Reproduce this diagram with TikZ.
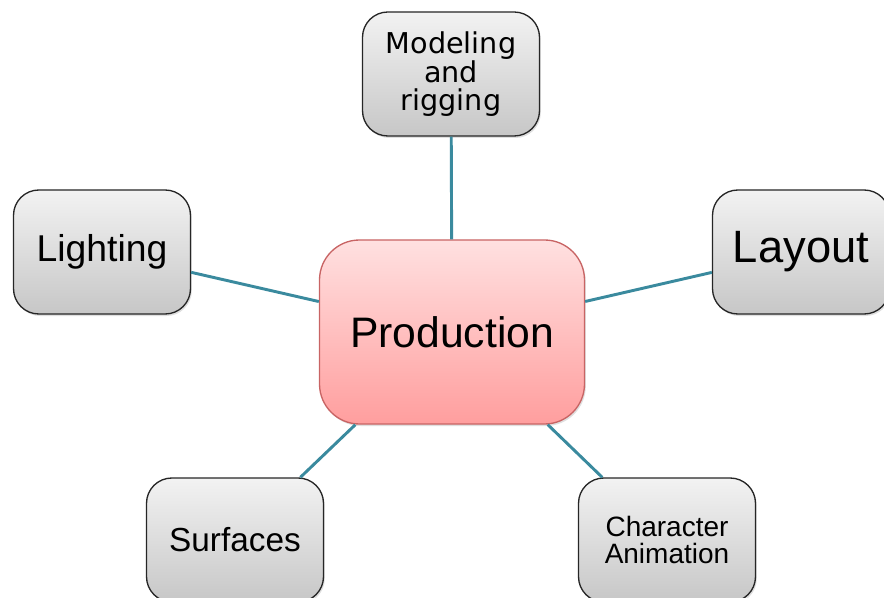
\documentclass[tikz,border=0pt]{standalone}
\usepackage{fontspec}
\setmainfont{Liberation Sans}
\newfontfamily\modfont{DejaVu Sans}
\usepackage{tikz}
\usetikzlibrary{shadows}

\definecolor{linkteal}{RGB}{58,138,158}
\definecolor{prodedge}{RGB}{200,100,100}

\begin{document}
\begin{tikzpicture}[x=0.75pt,y=-0.75pt,
	topic/.style={draw=black!85, line width=1pt, rounded corners=19pt,
		top color=black!5, bottom color=black!22, align=center,
		minimum width=132.75pt, minimum height=93pt, inner sep=0pt,
		drop shadow={opacity=0.25, shadow xshift=1pt, shadow yshift=-1.5pt}},
	hub/.style={draw=prodedge, line width=1pt, rounded corners=30pt,
		top color=red!12, bottom color=red!38, align=center,
		minimum width=198.75pt, minimum height=138pt, inner sep=0pt,
		drop shadow={opacity=0.25, shadow xshift=1pt, shadow yshift=-1.5pt}},
	link/.style={draw=linkteal, line width=2.2pt}]

	\useasboundingbox (0,0) rectangle (884,598);

	\coordinate(c) at (452, 332);

	% spokes first, boxes on top
	\path (c) node[hub, font=\fontsize{32}{34}\selectfont](prod){Production};
	\node[topic, font=\modfont\fontsize{21.5}{20.5}\selectfont](model) at (451, 74){Modeling\\and\\rigging};
	\node[topic, font=\fontsize{28}{30}\selectfont](light) at (102, 252){Lighting};
	\node[topic, font=\fontsize{34}{36}\selectfont](layout) at (801, 252){Layout};
	\node[topic, font=\fontsize{25}{27}\selectfont](surf) at (235, 540){Surfaces};
	\node[topic, font=\fontsize{21}{20}\selectfont](anim) at (667, 540){Character\\Animation};

	\draw[link] (prod)--(model);
	\draw[link] (prod)--(light);
	\draw[link] (prod)--(layout);
	\draw[link] (prod)--(surf);
	\draw[link] (prod)--(anim);

\end{tikzpicture}
\end{document}
